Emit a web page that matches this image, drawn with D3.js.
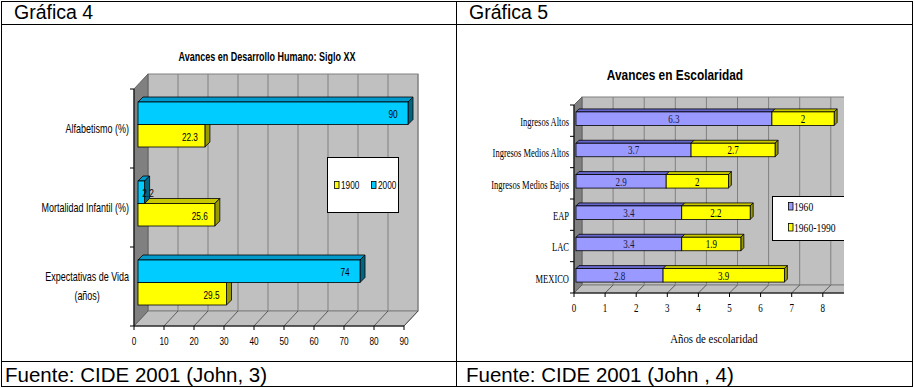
<!DOCTYPE html>
<html><head><meta charset="utf-8">
<script src="https://cdn.jsdelivr.net/npm/d3@7"></script>
<style>body{margin:0;background:#fff}svg{display:block}</style>
</head><body>
<script>
// ---------- DATA ----------
const headers = ["Gráfica 4", "Gráfica 5"];
const sources = ["Fuente: CIDE 2001 (John, 3)", "Fuente: CIDE 2001 (John , 4)"];

const titleA = "Avances en Desarrollo Humano: Siglo XX";
const categoriesA = ["Alfabetismo (%)", "Mortalidad Infantil (%)", "Expectativas de Vida\n(años)"];
const seriesA = ["1900", "2000"];
const values1900 = [22.3, 25.6, 29.5];
const values2000 = [90, 2.2, 74];
const ticksA = [0, 10, 20, 30, 40, 50, 60, 70, 80, 90];

const titleB = "Avances en Escolaridad";
const categoriesB = ["Ingresos Altos", "Ingresos Medios Altos", "Ingresos Medios Bajos", "EAP", "LAC", "MEXICO"];
const seriesB = ["1960", "1960-1990"];
const values1960 = [6.3, 3.7, 2.9, 3.4, 3.4, 2.8];
const values6090 = [2, 2.7, 2, 2.2, 1.9, 3.9];
const ticksB = [0, 1, 2, 3, 4, 5, 6, 7, 8, 9];
const axisTitleB = "Años de escolaridad";

// ---------- SETUP ----------
const W = 915, H = 388;
const svg = d3.select("body").append("svg").attr("width", W).attr("height", H);

const SANS = "'Liberation Sans', Arial, sans-serif";
const SERIF = "'Liberation Serif', 'Times New Roman', serif";

function txt(parent, x, y, s, o) {
  o = o || {};
  const g = parent.append("g").attr("transform", `translate(${x},${y}) scale(${o.sx || 1},1)`);
  const t = g.append("text")
    .attr("text-anchor", o.anchor || "start")
    .attr("dy", "0.35em")
    .attr("font-family", o.family || SANS)
    .attr("font-size", o.size || 11)
    .attr("font-weight", o.weight || "normal")
    .attr("fill", o.fill || "#000")
    .text(s);
  return t;
}

function poly(parent, pts, fill, stroke, sw) {
  return parent.append("polygon")
    .attr("points", pts.map(p => p.join(",")).join(" "))
    .attr("fill", fill).attr("stroke", stroke || "none").attr("stroke-width", sw || 1)
    .attr("stroke-linejoin", "round");
}

// 3D bar segment
function seg(g, x0, x1, y, h, d, c, withSide) {
  poly(g, [[x0, y], [x1, y], [x1 + d, y - d], [x0 + d, y - d]], c.top, "#000", 0.8);
  if (withSide) poly(g, [[x1, y], [x1 + d, y - d], [x1 + d, y + h - d], [x1, y + h]], c.side, "#000", 0.8);
  g.append("rect").attr("x", x0).attr("y", y).attr("width", Math.max(0, x1 - x0)).attr("height", h)
    .attr("fill", c.front).attr("stroke", "#000").attr("stroke-width", 0.8);
}

// ---------- TABLE ----------
const tbl = svg.append("g").attr("stroke", "#000").attr("stroke-width", 1).attr("fill", "none");
tbl.append("rect").attr("x", 1.5).attr("y", 1.5).attr("width", 911).attr("height", 385);
tbl.append("line").attr("x1", 456.5).attr("x2", 456.5).attr("y1", 1.5).attr("y2", 386.5);
tbl.append("line").attr("x1", 1.5).attr("x2", 912.5).attr("y1", 24.5).attr("y2", 24.5);
tbl.append("line").attr("x1", 1.5).attr("x2", 912.5).attr("y1", 361.5).attr("y2", 361.5);

[14, 469].forEach((x, i) => {
  svg.append("text").attr("x", x).attr("y", 19).attr("font-family", SANS).attr("font-size", 19.5)
    .text(headers[i]);
});
[5, 466].forEach((x, i) => {
  svg.append("text").attr("x", x).attr("y", 381.5).attr("font-family", SANS).attr("font-size", 20.5)
    .text(sources[i]);
});

// ---------- CHART A ----------
(function () {
  const g = svg.append("g");
  const NX = 0.72;
  const x = d3.scaleLinear().domain([0, 90]).range([134, 404]);
  const y = d3.scaleBand().domain(categoriesA).range([89, 326]);
  const grp = 45;
  const s = d3.scaleBand().domain(["2000", "1900"]).range([0, grp]);
  const dx = 14, dy = 15, bo = 4, bd = 5;
  const [yT, yB] = y.range();
  const x0 = x(0), x1 = x(90);

  txt(g, 267, 57, titleA, { size: 12.5, weight: "bold", anchor: "middle", sx: NX });

  // back wall
  g.append("rect").attr("x", x0 + dx).attr("y", yT - dy).attr("width", x1 - x0).attr("height", yB - yT)
    .attr("fill", "#c0c0c0").attr("stroke", "#808080");
  // gridlines
  g.selectAll(".gl").data(ticksA.slice(1)).enter().append("line")
    .attr("x1", d => x(d) + dx).attr("x2", d => x(d) + dx).attr("y1", yT - dy).attr("y2", yB - dy)
    .attr("stroke", "#808080").attr("stroke-width", 1);
  // floor
  poly(g, [[x0, yB], [x0 + dx, yB - dy], [x1 + dx, yB - dy], [x1, yB]], "#c0c0c0", "#808080");
  g.selectAll(".fl").data(ticksA.slice(1)).enter().append("line")
    .attr("x1", d => x(d)).attr("x2", d => x(d) + dx).attr("y1", yB).attr("y2", yB - dy)
    .attr("stroke", "#404040").attr("stroke-width", 0.8);
  // left wall
  poly(g, [[x0, yT], [x0 + dx, yT - dy], [x0 + dx, yB - dy], [x0, yB]], "#808080", "#606060");

  // axes
  g.append("line").attr("x1", x0).attr("x2", x0).attr("y1", yT).attr("y2", yB).attr("stroke", "#000");
  g.append("line").attr("x1", x0).attr("x2", x1).attr("y1", yB).attr("y2", yB).attr("stroke", "#000");
  const yticks = categoriesA.map(c => y(c)).concat([yB]);
  g.selectAll(".yt").data(yticks).enter().append("line")
    .attr("x1", x0 - 4).attr("x2", x0).attr("y1", d => d).attr("y2", d => d).attr("stroke", "#000");
  g.selectAll(".xt").data(ticksA).enter().append("line")
    .attr("x1", d => x(d)).attr("x2", d => x(d)).attr("y1", yB).attr("y2", yB + 4).attr("stroke", "#000");
  ticksA.forEach(t => txt(g, x(t), 341, String(t), { size: 11, anchor: "middle", sx: 0.75 }));

  // category labels
  categoriesA.forEach(c => {
    const lines = c.split("\n");
    const cy = y(c) + y.bandwidth() / 2;
    if (lines.length === 1) {
      txt(g, 129, cy, c, { size: 12.5, anchor: "end", sx: NX });
    } else {
      const t0 = txt(g, 129, cy - 9.5, lines[0], { size: 12.5, anchor: "end", sx: NX });
      const w = t0.node().getComputedTextLength() * NX;
      txt(g, 129 - w / 2, cy + 9.5, lines[1], { size: 12.5, anchor: "middle", sx: NX });
    }
  });

  const colors = {
    "1900": { front: "#ffff00", top: "#c8c800", side: "#999900" },
    "2000": { front: "#00ccff", top: "#0099cc", side: "#006680" }
  };
  const vals = { "1900": values1900, "2000": values2000 };
  categoriesA.forEach((c, i) => {
    ["1900", "2000"].forEach(sr => {
      const v = vals[sr][i];
      const by = y(c) + (y.bandwidth() - grp) / 2 - bo + s(sr);
      const bx0 = x(0) + bo, bx1 = x(v) + bo;
      seg(g, bx0, bx1, by, s.bandwidth(), bd, colors[sr], true);
      const lx = Math.max(bx1 - 15, bx0 + 10);
      txt(g, lx, by + s.bandwidth() / 2 + 1, String(v), { size: 11, anchor: "middle", sx: 0.75 });
    });
  });

  // legend
  const lg = g.append("g");
  lg.append("rect").attr("x", 327.5).attr("y", 157.5).attr("width", 71).attr("height", 55)
    .attr("fill", "#fff").attr("stroke", "#000");
  seriesA.forEach((sr, i) => {
    const lx = 334 + i * 37;
    lg.append("rect").attr("x", lx + 0.5).attr("y", 181.5).attr("width", 4.5).attr("height", 7)
      .attr("fill", colors[sr].front).attr("stroke", "#000").attr("stroke-width", 0.8);
    txt(lg, lx + 7, 185, sr, { size: 11, sx: 0.75 });
  });
})();

// ---------- CHART B ----------
(function () {
  svg.append("clipPath").attr("id", "clipB").append("rect")
    .attr("x", 458).attr("y", 26).attr("width", 386).attr("height", 334);
  const g = svg.append("g").attr("clip-path", "url(#clipB)");
  const NX = 0.68;
  const x = d3.scaleLinear().domain([0, 9]).range([574, 574 + 9 * 31.1]);
  const y = d3.scaleBand().domain(categoriesB).range([105, 293]);
  const bh = 13.5, dx = 8, dy = 8, bo = 2, bd = 3;
  const [yT, yB] = y.range();
  const x0 = x(0), x1 = x(9);

  txt(g, 675, 75, titleB, { size: 14.5, weight: "bold", anchor: "middle", sx: 0.82 });

  g.append("rect").attr("x", x0 + dx).attr("y", yT - dy).attr("width", x1 - x0).attr("height", yB - yT)
    .attr("fill", "#c0c0c0").attr("stroke", "#808080");
  g.selectAll(".gl").data(ticksB.slice(1)).enter().append("line")
    .attr("x1", d => x(d) + dx).attr("x2", d => x(d) + dx).attr("y1", yT - dy).attr("y2", yB - dy)
    .attr("stroke", "#808080");
  poly(g, [[x0, yB], [x0 + dx, yB - dy], [x1 + dx, yB - dy], [x1, yB]], "#c0c0c0", "#808080");
  g.selectAll(".fl").data(ticksB.slice(1)).enter().append("line")
    .attr("x1", d => x(d)).attr("x2", d => x(d) + dx).attr("y1", yB).attr("y2", yB - dy)
    .attr("stroke", "#404040").attr("stroke-width", 0.8);
  poly(g, [[x0, yT], [x0 + dx, yT - dy], [x0 + dx, yB - dy], [x0, yB]], "#808080", "#606060");

  g.append("line").attr("x1", x0).attr("x2", x0).attr("y1", yT).attr("y2", yB).attr("stroke", "#000");
  g.append("line").attr("x1", x0).attr("x2", x1).attr("y1", yB).attr("y2", yB).attr("stroke", "#000");
  const yticks = categoriesB.map(c => y(c)).concat([yB]);
  g.selectAll(".yt").data(yticks).enter().append("line")
    .attr("x1", x0 - 4).attr("x2", x0).attr("y1", d => d).attr("y2", d => d).attr("stroke", "#000");
  g.selectAll(".xt").data(ticksB).enter().append("line")
    .attr("x1", d => x(d)).attr("x2", d => x(d)).attr("y1", yB).attr("y2", yB + 4).attr("stroke", "#000");
  ticksB.forEach(t => txt(g, x(t), 308, String(t), { size: 12, anchor: "middle", family: SERIF, sx: 0.75 }));
  txt(g, 714, 339, axisTitleB, { size: 12, anchor: "middle", family: SERIF, sx: 0.9 });

  categoriesB.forEach(c => {
    txt(g, 569, y(c) + y.bandwidth() / 2 + 1, c, { size: 12.5, anchor: "end", family: SERIF, sx: NX });
  });

  const colors = {
    "1960": { front: "#9999ff", top: "#6666cc", side: "#5555aa" },
    "1960-1990": { front: "#ffff00", top: "#c8c800", side: "#999900" }
  };
  categoriesB.forEach((c, i) => {
    const by = y(c) + (y.bandwidth() - bh) / 2 - bo;
    const a = values1960[i], b = values6090[i];
    const xa0 = x(0) + bo, xa1 = x(a) + bo, xb1 = x(a + b) + bo;
    seg(g, xa0, xa1, by, bh, bd, colors["1960"], false);
    seg(g, xa1, xb1, by, bh, bd, colors["1960-1990"], true);
    txt(g, (xa0 + xa1) / 2, by + bh / 2, String(a), { size: 12, anchor: "middle", family: SERIF, sx: 0.75, fill: "#1a1a40" });
    txt(g, (xa1 + xb1) / 2, by + bh / 2, String(b), { size: 12, anchor: "middle", family: SERIF, sx: 0.75 });
  });

  const lg = g.append("g");
  lg.append("rect").attr("x", 772.5).attr("y", 196.5).attr("width", 90).attr("height", 44)
    .attr("fill", "#fff").attr("stroke", "#000");
  seriesB.forEach((sr, i) => {
    const ly = 202 + i * 21;
    lg.append("rect").attr("x", 788.5).attr("y", ly + 0.5).attr("width", 4.5).attr("height", 7.5)
      .attr("fill", colors[sr].front).attr("stroke", "#000").attr("stroke-width", 0.8);
    txt(lg, 794, ly + 4.5, sr, { size: 12, family: SERIF, sx: 0.8 });
  });
})();
</script>
</body></html>
